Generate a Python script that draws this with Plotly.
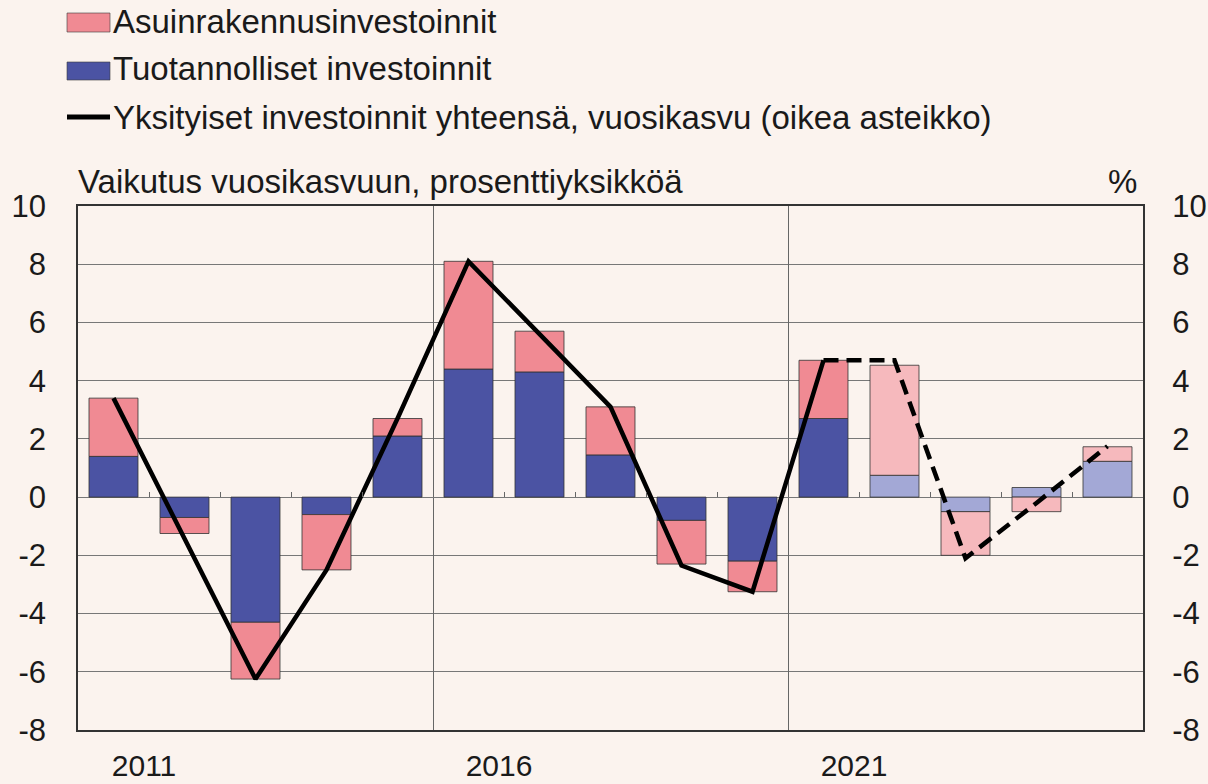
import plotly.graph_objects as go

years = list(range(2011, 2026))
productive = [1.4, -0.7, -4.3, -0.6, 2.1, 4.4, 4.3, 1.45, -0.8, -2.2, 2.7, 0.75, -0.5, 0.33, 1.23]
residential = [2.0, -0.55, -1.95, -1.9, 0.6, 3.7, 1.4, 1.65, -1.5, -1.05, 2.0, 3.78, -1.5, -0.5, 0.5]
total_growth = [3.4, -1.4, -6.25, -2.5, 2.7, 8.1, 5.6, 3.1, -2.35, -3.25, 4.7, 4.7, -2.1, -0.2, 1.75]
forecast_start = 2022

year_labels = ["2011", "2016", "2021"]
year_label_pos = [2011.43, 2016.43, 2021.43]
divider_pos = [2015.5, 2020.5]
y_ticks = [-8, -6, -4, -2, 0, 2, 4, 6, 8, 10]
y_ticktext = [str(v) for v in y_ticks]

leg_res = "Asuinrakennusinvestoinnit"
leg_prod = "Tuotannolliset investoinnit"
leg_total = "Yksityiset investoinnit yhteensä, vuosikasvu (oikea asteikko)"
left_title = "Vaikutus vuosikasvuun, prosenttiyksikköä"
right_title = "%"

PINK, PINK_L = "#F08A93", "#F6B9BD"
BLUE, BLUE_L = "#4B53A3", "#A3A8D6"
BG = "#FBF3EE"
FONT = "Liberation Sans, Arial, sans-serif"
FS = 33
FS_TICK = 31
FS_XTICK = 30

W, H = 1208, 784
L, T = 78, 206
R = W - 1143
B = H - 730
ph = H - T - B
pw = W - L - R

def px_x(x):
    return (x - L) / pw

def px_y(y):
    return (H - B - y) / ph

blue_cols = [BLUE_L if y >= forecast_start else BLUE for y in years]
pink_cols = [PINK_L if y >= forecast_start else PINK for y in years]

fig = go.Figure()
fig.add_trace(go.Bar(x=years, y=productive, name=leg_prod, width=0.69,
                     marker=dict(color=blue_cols, line=dict(color="rgba(50,50,50,0.8)", width=1))))
fig.add_trace(go.Bar(x=years, y=residential, name=leg_res, width=0.69,
                     marker=dict(color=pink_cols, line=dict(color="rgba(50,50,50,0.8)", width=1))))
n_hist = years.index(forecast_start)
fig.add_trace(go.Scatter(x=years[:n_hist], y=total_growth[:n_hist], mode="lines", yaxis="y2",
                         line=dict(color="black", width=4.5), name=leg_total))
fig.add_trace(go.Scatter(x=years[n_hist - 1:], y=total_growth[n_hist - 1:], mode="lines", yaxis="y2",
                         line=dict(color="black", width=4.5, dash="15px,8px"), showlegend=False))
# invisible traces to activate helper axes
fig.add_trace(go.Scatter(x=[years[0]], y=[0], xaxis="x2", mode="markers", marker=dict(opacity=0), showlegend=False, hoverinfo="skip"))
fig.add_trace(go.Scatter(x=[years[0]], y=[0], xaxis="x3", mode="markers", marker=dict(opacity=0), showlegend=False, hoverinfo="skip"))

xr = [years[0] - 0.5, years[-1] + 0.5]
fig.update_layout(
    width=W, height=H, margin=dict(l=L, r=R, t=T, b=B, autoexpand=False),
    paper_bgcolor=BG, plot_bgcolor=BG, barmode="relative",
    showlegend=False, font=dict(family=FONT, size=FS, color="#1a1a1a"),
    xaxis=dict(range=xr, tickvals=year_label_pos, ticktext=year_labels, showgrid=False,
               ticks="outside", ticklen=8, tickcolor="rgba(0,0,0,0)", tickfont=dict(size=FS_XTICK),
               showline=True, mirror=True, linecolor="#333", linewidth=1.5, zeroline=False),
    xaxis2=dict(range=xr, overlaying="x", tickvals=divider_pos, showgrid=True, gridcolor="#666",
                gridwidth=1, showticklabels=False, ticks="", showline=False, zeroline=False),
    xaxis3=dict(range=xr, overlaying="x", anchor="free", position=8 / 18, side="top",
                tickvals=[y + 0.5 for y in years[:-1]], ticks="outside", ticklen=5, tickcolor="#666",
                showticklabels=False, showgrid=False, showline=False, zeroline=False),
    yaxis=dict(range=[-8, 10], tickvals=y_ticks, ticktext=y_ticktext, showgrid=True, gridcolor="#777", gridwidth=1,
               zeroline=True, zerolinecolor="#777", zerolinewidth=1, tickfont=dict(size=FS_TICK),
               ticks="outside", ticklen=24, tickcolor="rgba(0,0,0,0)",
               showline=True, mirror=True, linecolor="#333", linewidth=1.5),
    yaxis2=dict(range=[-8, 10], tickvals=y_ticks, ticktext=y_ticktext, overlaying="y", side="right",
                showgrid=False, zeroline=False, tickfont=dict(size=FS_TICK),
                ticks="outside", ticklen=22, tickcolor="rgba(0,0,0,0)"),
)

# manual legend
sw_x0, sw_x1 = px_x(67), px_x(110)
rows = [(13, 32, 21, leg_res, PINK), (62, 80, 69, leg_prod, BLUE), (117, 117, 118, leg_total, None)]
for y0, y1, yc, text, col in rows:
    if col:
        fig.add_shape(type="rect", xref="paper", yref="paper", x0=sw_x0, x1=sw_x1,
                      y0=px_y(y1), y1=px_y(y0), fillcolor=col,
                      line=dict(color="rgba(60,60,60,0.6)", width=1))
    else:
        fig.add_shape(type="line", xref="paper", yref="paper", x0=sw_x0, x1=sw_x1,
                      y0=px_y(y0), y1=px_y(y0), line=dict(color="black", width=5))
    fig.add_annotation(xref="paper", yref="paper", x=px_x(111), y=px_y(yc), text=text,
                       showarrow=False, xanchor="left", yanchor="middle", font=dict(size=FS))

fig.add_annotation(xref="paper", yref="paper", x=px_x(76), y=px_y(181), text=left_title, showarrow=False,
                   xanchor="left", yanchor="middle", font=dict(size=FS))
fig.add_annotation(xref="paper", yref="paper", x=px_x(1139), y=px_y(181), text=right_title, showarrow=False,
                   xanchor="right", yanchor="middle", font=dict(size=FS))

fig.write_html("out.html", config={"displayModeBar": False},
               post_script="document.body.style.margin='0';document.body.style.overflow='hidden';"
                           "document.documentElement.style.overflow='hidden';")
